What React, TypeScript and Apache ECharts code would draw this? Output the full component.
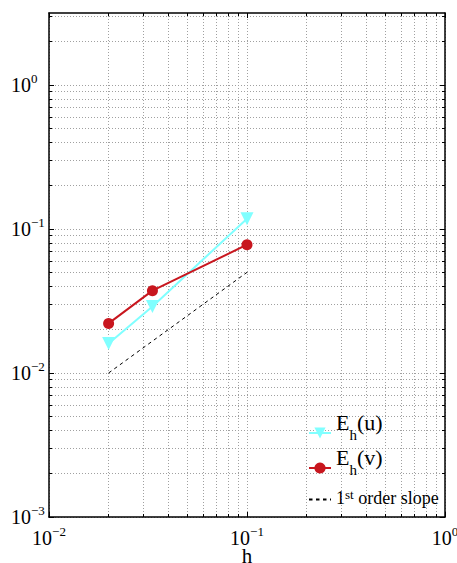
import React, { useEffect, useRef } from 'react';
import * as echarts from 'echarts';

// ---- data ----
const H_VALUES = [0.02, 0.0333, 0.1];
const EU_VALUES = [0.016, 0.029, 0.118];
const EV_VALUES = [0.0221, 0.0373, 0.0778];
const SLOPE_H = [0.02, 0.1];
const SLOPE_E = [0.01, 0.05];
const SERIES_NAMES = ['Eh(u)', 'Eh(v)', 'slope'];
const X_NAME = 'h';

// ---- tick values ----
const X_MAJOR = [0.01, 0.1, 1];
const X_MINOR = [0.02, 0.03, 0.04, 0.05, 0.06, 0.07, 0.08, 0.09, 0.2, 0.3, 0.4, 0.5, 0.6, 0.7, 0.8, 0.9];
const Y_MAJOR = [0.001, 0.01, 0.1, 1];
const Y_MINOR = [
  0.002, 0.003, 0.004, 0.005, 0.006, 0.007, 0.008, 0.009,
  0.02, 0.03, 0.04, 0.05, 0.06, 0.07, 0.08, 0.09,
  0.2, 0.3, 0.4, 0.5, 0.6, 0.7, 0.8, 0.9,
  2, 3,
];

const FONT = "'Liberation Serif', 'Times New Roman', serif";
const CYAN = '#80ffff';
const RED = '#c8161e';
const GRID_LINE = { show: true, lineStyle: { color: '#a0a0a0', width: 1, type: [1, 2] as number[] } };

const powLabel = (v: number) => {
  const e = Math.round(Math.log10(v));
  const s = e < 0 ? '\u2212' + Math.abs(e) : String(e);
  return `{b|10}{s|${s}}`;
};

const labelRich = {
  b: { fontFamily: FONT, fontSize: 20, color: '#000', lineHeight: 22 },
  s: { fontFamily: FONT, fontSize: 13, color: '#000', lineHeight: 13, padding: [0, 0, 14, 0] },
};

const legendRich = {
  e: { fontFamily: FONT, fontSize: 22, color: '#000', lineHeight: 14, padding: [0, 0, 21, 0] },
  sub: { fontFamily: FONT, fontSize: 15, color: '#000', lineHeight: 14, padding: [3, 0, 0, 0] },
  o: { fontFamily: FONT, fontSize: 18, color: '#000', lineHeight: 14, padding: [0, 0, 3, 0] },
  sup: { fontFamily: FONT, fontSize: 13, color: '#000', lineHeight: 12, padding: [1.5, 0, 12.5, 0] },
};

const legendFormatter = (name: string) => {
  if (name === SERIES_NAMES[0]) return '{e|E}{sub|h}{e|(u)}';
  if (name === SERIES_NAMES[1]) return '{e|E}{sub|h}{e|(v)}';
  return '{o|1}{sup|st}{o| order slope}';
};

const makeLegend = (item: any, top: number) => ({
  orient: 'vertical',
  left: 308,
  top,
  padding: 0,
  itemWidth: 22,
  itemHeight: 14,
  data: [item],
  formatter: legendFormatter,
  textStyle: { fontFamily: FONT, rich: legendRich },
});

export default function App() {
  const ref = useRef<HTMLDivElement>(null);
  useEffect(() => {
    if (!ref.current) return;
    const chart = echarts.init(ref.current, undefined, { renderer: 'svg' });
    const xBase = { type: 'log', logBase: 10, min: 0.01, max: 1, gridIndex: 0 };
    const yBase = { type: 'log', logBase: 10, min: 0.001, max: Math.pow(10, 0.5), gridIndex: 0 };
    const axisLineOn = { show: true, onZero: false, lineStyle: { color: '#000', width: 1.5 } };
    const axisLineOff = { show: false, onZero: false };
    const option: any = {
      animation: false,
      backgroundColor: '#fff',
      textStyle: { fontFamily: FONT },
      grid: { left: 49, right: 12, top: 13, bottom: 46, containLabel: false, outerBoundsMode: 'none' },
      xAxis: [
        {
          ...xBase, position: 'bottom',
          axisLine: axisLineOn,
          axisTick: { show: true, inside: true, length: 5, customValues: X_MAJOR, lineStyle: { color: '#000' } },
          axisLabel: { show: true, customValues: X_MAJOR, formatter: powLabel, rich: labelRich, margin: 10, fontFamily: FONT },
          splitLine: GRID_LINE,
          name: X_NAME, nameLocation: 'middle', nameGap: 29, nameMoveOverlap: false,
          nameTextStyle: { fontFamily: FONT, fontSize: 21, color: '#000', verticalAlign: 'top', lineHeight: 20 },
        },
        {
          ...xBase, position: 'bottom',
          axisLine: axisLineOff,
          axisTick: { show: true, inside: true, length: 3, customValues: X_MINOR, lineStyle: { color: '#000' } },
          axisLabel: { show: false },
          splitLine: GRID_LINE,
        },
        {
          ...xBase, position: 'top',
          axisLine: axisLineOn,
          axisTick: { show: true, inside: true, length: 5, customValues: X_MAJOR, lineStyle: { color: '#000' } },
          axisLabel: { show: false },
          splitLine: { show: false },
        },
        {
          ...xBase, position: 'top',
          axisLine: axisLineOff,
          axisTick: { show: true, inside: true, length: 3, customValues: X_MINOR, lineStyle: { color: '#000' } },
          axisLabel: { show: false },
          splitLine: { show: false },
        },
      ],
      yAxis: [
        {
          ...yBase, position: 'left',
          axisLine: axisLineOn,
          axisTick: { show: true, inside: true, length: 5, customValues: Y_MAJOR, lineStyle: { color: '#000' } },
          axisLabel: { show: true, customValues: Y_MAJOR, formatter: powLabel, rich: labelRich, margin: 38, align: 'left', fontFamily: FONT },
          splitLine: GRID_LINE,
        },
        {
          ...yBase, position: 'left',
          axisLine: axisLineOff,
          axisTick: { show: true, inside: true, length: 3, customValues: Y_MINOR, lineStyle: { color: '#000' } },
          axisLabel: { show: false },
          splitLine: GRID_LINE,
        },
        {
          ...yBase, position: 'right',
          axisLine: axisLineOn,
          axisTick: { show: true, inside: true, length: 5, customValues: Y_MAJOR, lineStyle: { color: '#000' } },
          axisLabel: { show: false },
          splitLine: { show: false },
        },
        {
          ...yBase, position: 'right',
          axisLine: axisLineOff,
          axisTick: { show: true, inside: true, length: 3, customValues: Y_MINOR, lineStyle: { color: '#000' } },
          axisLabel: { show: false },
          splitLine: { show: false },
        },
      ],
      legend: [
        makeLegend({ name: SERIES_NAMES[0] }, 411.5),
        makeLegend({ name: SERIES_NAMES[1] }, 446.5),
        makeLegend({ name: SERIES_NAMES[2], itemStyle: { opacity: 0 } }, 486),
      ],
      series: [
        {
          name: SERIES_NAMES[2],
          type: 'line',
          xAxisIndex: 0, yAxisIndex: 0,
          data: SLOPE_H.map((h, i) => [h, SLOPE_E[i]]),
          showSymbol: false,
          symbol: 'none',
          lineStyle: { color: '#000', width: 1, type: [3.5, 3.5] },
          itemStyle: { color: '#000' },
          z: 3,
        },
        {
          name: SERIES_NAMES[0],
          type: 'line',
          xAxisIndex: 0, yAxisIndex: 0,
          data: H_VALUES.map((h, i) => [h, EU_VALUES[i]]),
          symbol: 'triangle', symbolRotate: 180, symbolSize: 13,
          lineStyle: { color: CYAN, width: 2 },
          itemStyle: { color: CYAN },
          z: 4,
        },
        {
          name: SERIES_NAMES[1],
          type: 'line',
          xAxisIndex: 0, yAxisIndex: 0,
          data: H_VALUES.map((h, i) => [h, EV_VALUES[i]]),
          symbol: 'circle', symbolSize: 11,
          lineStyle: { color: RED, width: 2 },
          itemStyle: { color: RED },
          z: 5,
        },
      ],
    };
    chart.setOption(option);
    return () => chart.dispose();
  }, []);
  return (
    <div
      ref={ref}
      style={{ position: 'fixed', left: 0, top: 0, width: 457, height: 563, background: '#fff' }}
    />
  );
}
